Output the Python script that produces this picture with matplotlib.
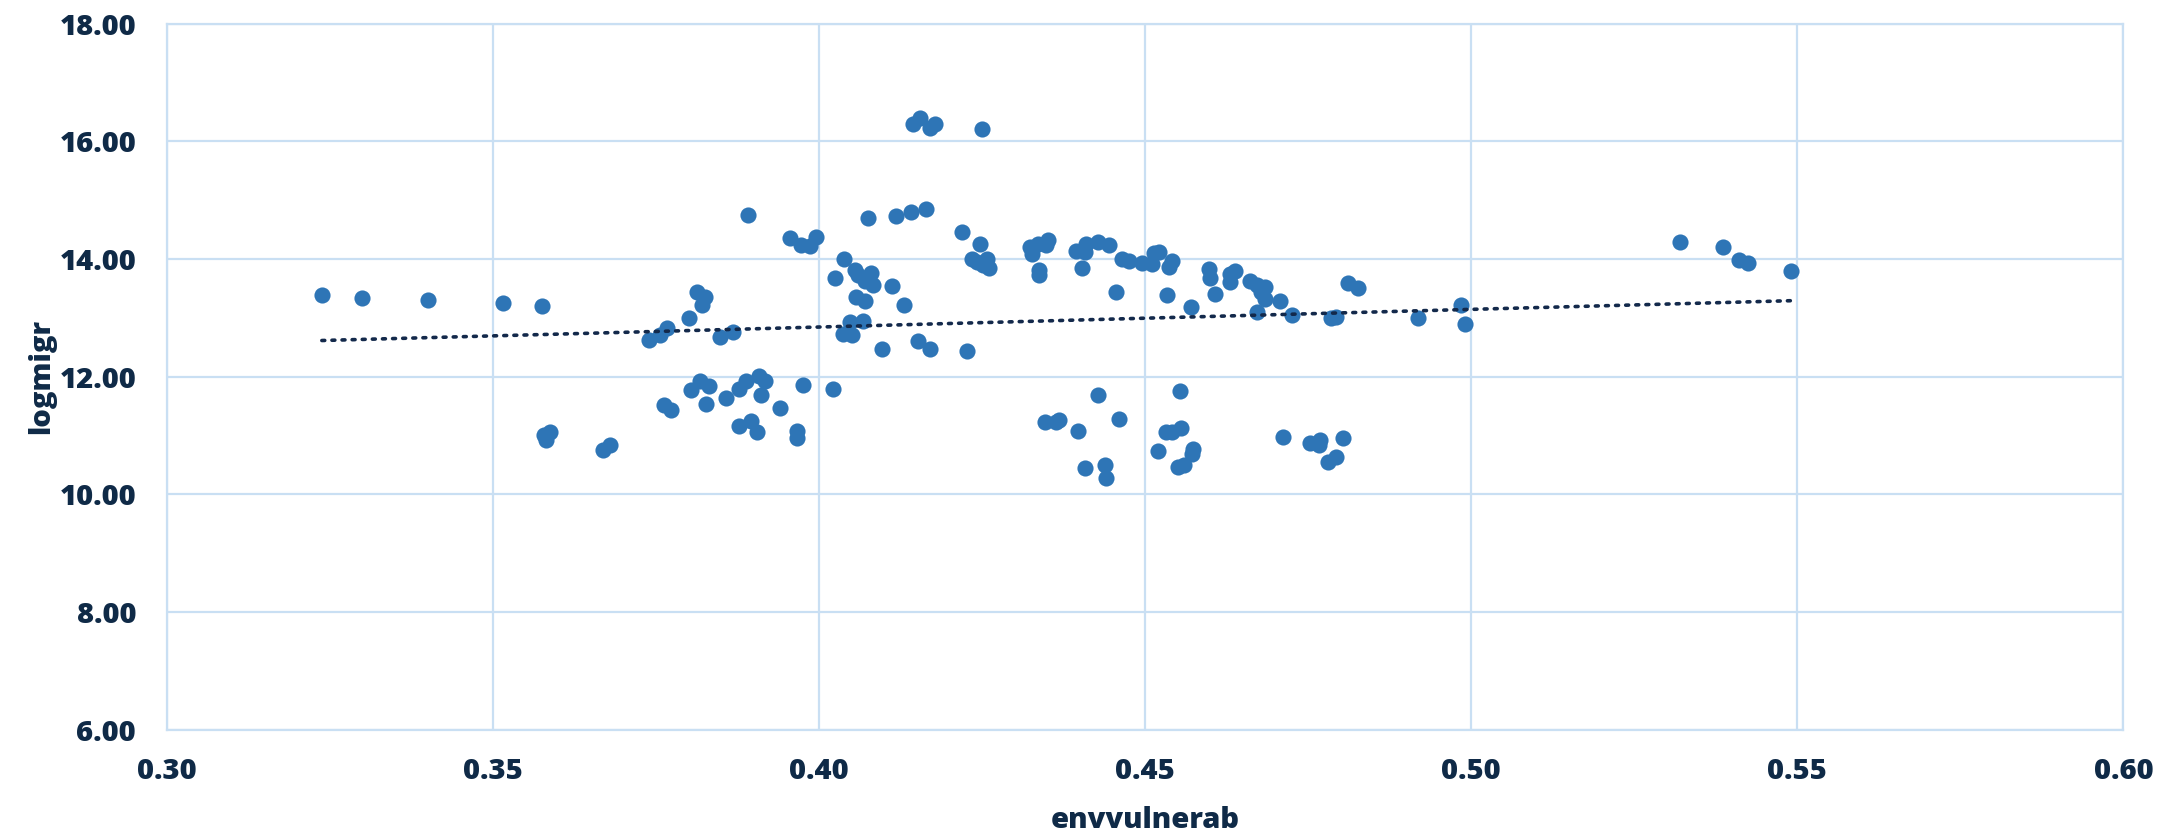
import numpy as np
import matplotlib
matplotlib.use('Agg')
import matplotlib.pyplot as plt

# envvulnerab (x) vs logmigr (y)
envvulnerab = [
    0.3238, 0.3299, 0.3400, 0.3515, 0.3576,
    0.3579, 0.3588, 0.3582, 0.3669, 0.3679,
    0.3740, 0.3756, 0.3767, 0.3763, 0.3774, 0.3801, 0.3813, 0.3826, 0.3821,
    0.3804, 0.3818, 0.3831, 0.3827, 0.3848, 0.3868, 0.3858, 0.3892, 0.3877,
    0.3889, 0.3908, 0.3917, 0.3911, 0.3878, 0.3896, 0.3905, 0.3940,
    0.3955, 0.3973, 0.3987, 0.3996, 0.3975, 0.3967, 0.3967,
    0.4022, 0.4025, 0.4038, 0.4075, 0.4118, 0.4141, 0.4164,
    0.4056, 0.4060, 0.4080, 0.4070, 0.4083, 0.4112, 0.4057, 0.4070, 0.4131,
    0.4048, 0.4067, 0.4037, 0.4050, 0.4097, 0.4152, 0.4171,
    0.4144, 0.4155, 0.4170, 0.4178,
    0.4250, 0.4220, 0.4247, 0.4235, 0.4243, 0.4252, 0.4258, 0.4261, 0.4227,
    0.4324, 0.4327, 0.4336, 0.4348, 0.4352, 0.4338, 0.4338,
    0.4394, 0.4403, 0.4409, 0.4408, 0.4428, 0.4445, 0.4455,
    0.4465, 0.4475, 0.4496, 0.4511, 0.4514, 0.4522, 0.4541, 0.4537, 0.4533,
    0.4571, 0.4598, 0.4599, 0.4608, 0.4631, 0.4638, 0.4631,
    0.4661, 0.4672, 0.4684, 0.4678, 0.4684, 0.4671, 0.4707, 0.4726,
    0.4785, 0.4793, 0.4811, 0.4826, 0.4919, 0.4984, 0.4991,
    0.5320, 0.5386, 0.5411, 0.5424, 0.5490,
    0.4428, 0.4347, 0.4363, 0.4368, 0.4397, 0.4460, 0.4408, 0.4439, 0.4440,
    0.4554, 0.4520, 0.4532, 0.4542, 0.4555, 0.4573, 0.4572, 0.4550, 0.4560,
    0.4711, 0.4753, 0.4769, 0.4767, 0.4803, 0.4780, 0.4793,
]
logmigr = [
    13.38, 13.33, 13.30, 13.25, 13.20,
    11.00, 11.05, 10.93, 10.75, 10.83,
    12.63, 12.71, 12.82, 11.51, 11.44, 12.99, 13.43, 13.35, 13.22,
    11.78, 11.92, 11.84, 11.54, 12.67, 12.76, 11.64, 14.74, 11.79,
    11.92, 12.01, 11.92, 11.68, 11.16, 11.24, 11.06, 11.47,
    14.36, 14.23, 14.22, 14.37, 11.85, 11.08, 10.95,
    11.79, 13.67, 14.00, 14.70, 14.73, 14.80, 14.85,
    13.82, 13.73, 13.76, 13.62, 13.55, 13.54, 13.35, 13.28, 13.21,
    12.93, 12.95, 12.73, 12.71, 12.47, 12.60, 12.47,
    16.30, 16.40, 16.23, 16.30,
    16.20, 14.45, 14.26, 14.00, 13.94, 13.90, 14.00, 13.85, 12.43,
    14.20, 14.09, 14.25, 14.23, 14.33, 13.82, 13.72,
    14.14, 13.84, 14.25, 14.12, 14.29, 14.24, 13.43,
    14.00, 13.97, 13.93, 13.92, 14.10, 14.12, 13.97, 13.86, 13.39,
    13.18, 13.83, 13.68, 13.41, 13.75, 13.80, 13.60,
    13.63, 13.55, 13.52, 13.44, 13.32, 13.10, 13.29, 13.05,
    12.99, 13.02, 13.59, 13.51, 13.00, 13.22, 12.89,
    14.28, 14.20, 13.98, 13.93, 13.79,
    11.68, 11.23, 11.23, 11.27, 11.08, 11.28, 10.44, 10.50, 10.27,
    11.75, 10.74, 11.05, 11.06, 11.13, 10.77, 10.68, 10.46, 10.50,
    10.97, 10.87, 10.92, 10.83, 10.96, 10.54, 10.64,
]

x = np.array(envvulnerab)
y = np.array(logmigr)

text_color = '#0F2A47'
grid_color = '#C9DFF3'
plt.rcParams['font.family'] = ['Open Sans', 'DejaVu Sans']

fig = plt.figure(figsize=(21.75, 8.34), dpi=100)
ax = fig.add_axes([0.0766, 0.1252, 0.8997, 0.8465])

ax.scatter(x, y, s=135, color='#2E75B6', zorder=3, linewidths=0)

# linear trend line (like Excel's)
k, b = np.polyfit(x, y, 1)
xt = np.array([x.min(), x.max()])
ax.plot(xt, k * xt + b, color='#13294B', lw=2.6, linestyle=(0, (0.8, 2.0)),
        dash_capstyle='round', zorder=4)

ax.set_xlim(0.30, 0.60)
ax.set_ylim(6, 18)
ax.set_xticks(np.arange(0.30, 0.601, 0.05))
ax.set_yticks(np.arange(6, 18.01, 2))
ax.xaxis.set_major_formatter(matplotlib.ticker.FormatStrFormatter('%.2f'))
ax.yaxis.set_major_formatter(matplotlib.ticker.FormatStrFormatter('%.2f'))
ax.grid(True, color=grid_color, lw=1.6)
ax.set_axisbelow(True)
for sp in ax.spines.values():
    sp.set_color(grid_color)
    sp.set_linewidth(1.6)
ax.tick_params(length=0, labelsize=21, labelcolor=text_color)
ax.tick_params(axis='x', pad=20)
ax.tick_params(axis='y', pad=22)
for lab in ax.get_xticklabels() + ax.get_yticklabels():
    lab.set_fontweight('heavy')

ax.set_xlabel('envvulnerab', fontsize=21, fontweight='heavy', color=text_color, labelpad=14)
ax.set_ylabel('logmigr', fontsize=21, fontweight='heavy', color=text_color, labelpad=2)

plt.savefig('out.png', dpi=100)
